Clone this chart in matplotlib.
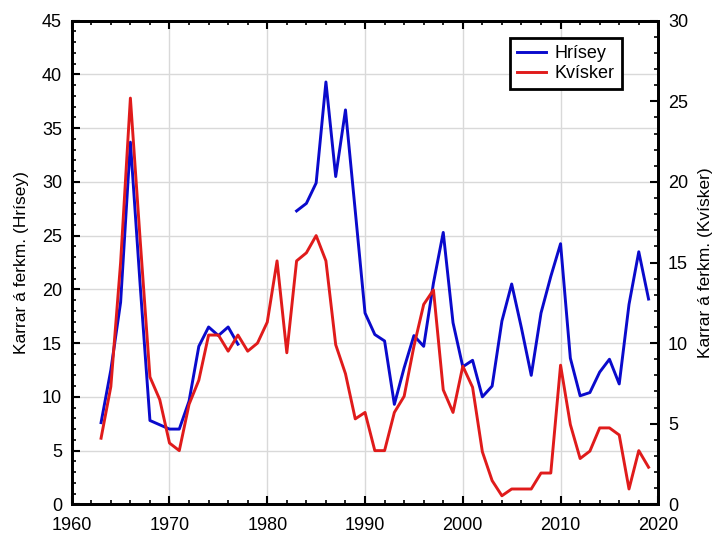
import numpy as np
import matplotlib.pyplot as plt
from matplotlib.ticker import MultipleLocator

plt.rcParams.update({
    'font.family': ['Liberation Sans', 'DejaVu Sans'],
    'font.size': 13,
})

# Ár
ar = list(range(1963, 2020))

# Hrísey (vinstri ás), eyða 1978-1982
hrisey = [7.6, 12.5, 18.8, 33.7, 20.4, 7.8, 7.4, 7.0, 7.0, 9.6,
          14.7, 16.5, 15.7, 16.5, 14.9, np.nan, np.nan, np.nan, np.nan, np.nan,
          27.3, 28.0, 29.9, 39.3, 30.5, 36.7, 27.3, 17.8, 15.8, 15.2,
          9.3, 12.7, 15.7, 14.7, 20.6, 25.3, 16.9, 12.8, 13.4, 10.0,
          11.0, 17.05, 20.5, 16.4, 12.0, 17.8, 21.2, 24.25, 13.6, 10.1,
          10.4, 12.3, 13.5, 11.2, 18.6, 23.5, 19.1]

# Kvísker (hægri ás)
kvisker = [4.1, 7.3, 15.0, 25.2, 16.4, 7.9, 6.5, 3.8, 3.33, 6.2,
           7.7, 10.5, 10.5, 9.5, 10.5, 9.5, 10.0, 11.3, 15.1, 9.4,
           15.1, 15.6, 16.67, 15.1, 9.9, 8.1, 5.3, 5.7, 3.33, 3.33,
           5.7, 6.7, 9.8, 12.4, 13.3, 7.1, 5.7, 8.57, 7.26, 3.26,
           1.47, 0.53, 0.95, 0.95, 0.95, 1.94, 1.94, 8.63, 4.95, 2.84,
           3.3, 4.74, 4.74, 4.3, 0.95, 3.33, 2.3]

fig = plt.figure(figsize=(7.18, 5.34), dpi=100)
ax = fig.add_axes([0.0999, 0.0556, 0.817, 0.9056])
ax2 = ax.twinx()

l1, = ax.plot(ar, hrisey, color='#0a0acc', lw=2.1, label='Hrísey')
l2, = ax2.plot(ar, kvisker, color='#e01b1b', lw=2.1, label='Kvísker')

ax.set_xlim(1960, 2020)
ax.set_ylim(0, 45)
ax2.set_ylim(0, 30)

ax.xaxis.set_major_locator(MultipleLocator(10))
ax.xaxis.set_minor_locator(MultipleLocator(2))
ax.yaxis.set_major_locator(MultipleLocator(5))
ax.yaxis.set_minor_locator(MultipleLocator(1))
ax2.yaxis.set_major_locator(MultipleLocator(5))
ax2.yaxis.set_minor_locator(MultipleLocator(1))

ax.grid(True, which='major', color='#d9d9d9', lw=1.0)
ax.set_axisbelow(True)

ax.tick_params(which='both', direction='in', top=True, right=False, labelsize=13)
ax.tick_params(axis='y', pad=7)
ax.tick_params(axis='x', pad=9)
ax.tick_params(which='major', length=6, width=1.5)
ax.tick_params(which='minor', length=3, width=1.2)
ax2.tick_params(which='both', direction='in', labelsize=13, pad=7)
ax2.tick_params(which='major', length=6, width=1.5)
ax2.tick_params(which='minor', length=3, width=1.2)

for a in (ax, ax2):
    for s in a.spines.values():
        s.set_linewidth(2)

ax.set_ylabel('Karrar á ferkm. (Hrísey)', fontsize=12.5, labelpad=9)
ax2.set_ylabel('Karrar á ferkm. (Kvísker)', fontsize=12.5, labelpad=7)

leg = ax.legend(handles=[l1, l2], loc='upper right', bbox_to_anchor=(0.938, 0.964),
                fancybox=False, framealpha=1, edgecolor='black', fontsize=13,
                handlelength=1.6, borderpad=0.4, labelspacing=0.15,
                handletextpad=0.5, borderaxespad=0)
leg.get_frame().set_linewidth(2)

fig.savefig('out.png', dpi=100)
